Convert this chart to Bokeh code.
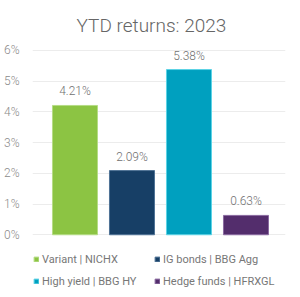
from bokeh.plotting import figure
from bokeh.models import ColumnDataSource, Range1d, Legend, LegendItem, LabelSet, SingleIntervalTicker, CustomJSTickFormatter
from bokeh.core.properties import value
from bokeh.embed import file_html
from bokeh.resources import INLINE

categories = ["Variant | NICHX", "IG bonds | BBG Agg", "High yield | BBG HY", "Hedge funds | HFRXGL"]
returns = [4.21, 2.09, 5.38, 0.63]
colors = ["#8cc443", "#173f66", "#00a0bf", "#532d6c"]
edge_colors = ["#b5dc85", "#4f7396", "#5cd3e6", "#8a6aa0"]
labels = ["4.21%", "2.09%", "5.38%", "0.63%"]

xs = list(range(len(categories)))
src = ColumnDataSource(dict(x=xs, cat=categories, val=returns, color=colors, edge=edge_colors, lab=labels))

LIGHT = "'Roboto Light', Roboto"

p = figure(width=300, height=297, x_range=Range1d(-0.7456, 3.693), y_range=Range1d(-2.043, 6.065),
           output_backend="svg", toolbar_location=None,
           min_border_left=32, min_border_right=15, min_border_top=0, min_border_bottom=0)
p.title.text = "YTD returns: 2023"
p.title.align = "left"
p.title.offset = 44
p.title.text_font = LIGHT
p.title.text_font_style = "normal"
p.title.text_font_size = "19px"
p.title.text_color = "#666666"
p.title.standoff = 23

r = p.vbar(x="x", top="val", width=0.79, source=src, fill_color="color", line_color="edge", line_width=1)

ls = LabelSet(x="x", y="val", text="lab", source=src, text_align="center", text_baseline="bottom",
              y_offset=7, text_font=value(LIGHT), text_font_size=value("12px"), text_color=value("#707070"))
p.add_layout(ls)

p.xaxis.visible = False
p.yaxis.bounds = (0, 6)
p.yaxis.ticker = SingleIntervalTicker(interval=1)
p.yaxis.formatter = CustomJSTickFormatter(code="return tick + '%'")
p.yaxis.axis_line_color = None
p.yaxis.major_tick_line_color = None
p.yaxis.minor_tick_line_color = None
p.yaxis.major_label_text_font = LIGHT
p.yaxis.major_label_text_font_size = "12px"
p.yaxis.major_label_text_color = "#8a8a8a"
p.yaxis.major_label_standoff = 7
p.xgrid.grid_line_color = None
p.ygrid.grid_line_color = "#ececec"
p.ygrid.bounds = (0, 6)
p.ygrid.ticker = SingleIntervalTicker(interval=1)
p.outline_line_color = None

def make_legend(idx, ypos):
    items = [LegendItem(label=categories[i], renderers=[r], index=i) for i in idx]
    return Legend(items=items, orientation="horizontal", location=(1, ypos),
                  label_text_font="Roboto", label_text_font_size="11px", label_text_color="#777777",
                  glyph_width=6, glyph_height=6, label_standoff=3, spacing=2, padding=0, margin=0,
                  label_width=110, label_height=14,
                  border_line_color=None, background_fill_alpha=0)

p.add_layout(make_legend([0, 1], 31))
p.add_layout(make_legend([2, 3], 9))

open("out.html", "w").write(file_html(p, INLINE))
